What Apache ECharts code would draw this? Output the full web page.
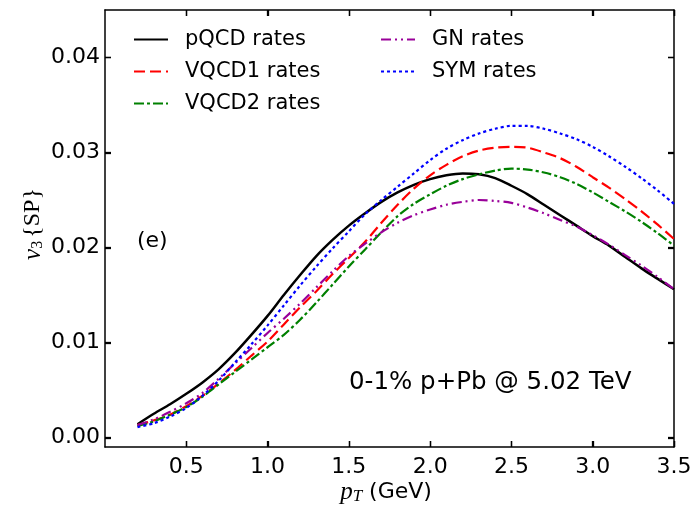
<!DOCTYPE html>
<html>
<head>
<meta charset="utf-8">
<script src="https://cdn.jsdelivr.net/npm/echarts@6/dist/echarts.min.js"></script>
<style>
html,body{margin:0;padding:0;background:#fff;}
#chart{width:696px;height:508px;}
</style>
</head>
<body>
<div id="chart"></div>
<script>
const pT = [0.2,0.3,0.4,0.5,0.6,0.7,0.8,0.9,1.0,1.1,1.2,1.3,1.4,1.5,1.6,1.7,1.8,1.9,2.0,2.1,2.2,2.3,2.4,2.5,2.6,2.7,2.8,2.9,3.0,3.1,3.2,3.3,3.4,3.5];
const pQCD = [0.0014,0.0025,0.0035,0.0046,0.0058,0.0072,0.0089,0.0108,0.0128,0.0150,0.0171,0.0191,0.0208,0.0223,0.0236,0.0248,0.0258,0.0266,0.0272,0.0276,0.0278,0.0277,0.0273,0.0265,0.0256,0.0245,0.0234,0.0223,0.0212,0.0202,0.0190,0.0178,0.0167,0.0156];
const VQCD1 = [0.0013,0.0018,0.0024,0.0033,0.0044,0.0057,0.0071,0.0086,0.0101,0.0119,0.0137,0.0154,0.0172,0.0189,0.0206,0.0226,0.0245,0.0262,0.0276,0.0287,0.0296,0.0302,0.0305,0.0306,0.0305,0.0300,0.0294,0.0285,0.0274,0.0263,0.0251,0.0238,0.0224,0.0209];
const VQCD2 = [0.0012,0.0017,0.0024,0.0032,0.0043,0.0056,0.0069,0.0082,0.0095,0.0108,0.0124,0.0142,0.0161,0.0180,0.0198,0.0216,0.0233,0.0246,0.0256,0.0265,0.0272,0.0277,0.0281,0.0283,0.0282,0.0279,0.0274,0.0267,0.0258,0.0248,0.0238,0.0227,0.0215,0.0202];
const GN = [0.0013,0.0019,0.0027,0.0036,0.0047,0.0062,0.0078,0.0094,0.0110,0.0125,0.0141,0.0158,0.0175,0.0191,0.0204,0.0216,0.0226,0.0234,0.0240,0.0245,0.0248,0.0250,0.0249,0.0247,0.0242,0.0236,0.0229,0.0222,0.0213,0.0203,0.0192,0.0181,0.0169,0.0156];
const SYM = [0.0011,0.0015,0.0022,0.0031,0.0044,0.0060,0.0079,0.0098,0.0118,0.0139,0.0160,0.0180,0.0199,0.0217,0.0235,0.0250,0.0264,0.0278,0.0292,0.0304,0.0313,0.0320,0.0325,0.0328,0.0328,0.0325,0.0320,0.0314,0.0306,0.0296,0.0285,0.0273,0.0260,0.0246];
const yTicks = [0.00,0.01,0.02,0.03,0.04];
const xTicks = [0.5,1.0,1.5,2.0,2.5,3.0,3.5];
const xRange = [0, 3.5];
const yRange = [-0.001, 0.045];

const pair = arr => pT.map((x,i)=>[x,arr[i]]);
const sans = 'DejaVu Sans';

const mkSeries = (name, arr, color, width, type) => ({
  name, type:'line', data: pair(arr), showSymbol:false, symbol:'none', smooth:0.3,
  lineStyle:{color, width, type}, itemStyle:{color}, z: 3
});
const mkTick = vals => ({show:true, inside:true, length:6, customValues: vals,
  lineStyle:{color:'#000', width:1.3}});

const chart = echarts.init(document.getElementById('chart'), null, {renderer:'canvas'});
const axLine = () => ({show:true, onZero:false, lineStyle:{color:'#000', width:1.5}});
const legendBase = () => ({orient:'vertical', itemWidth:34, itemHeight:14, itemGap:11,
  itemStyle:{opacity:0, color:'rgba(0,0,0,0)', borderWidth:0},
  textStyle:{fontFamily:sans, fontSize:21, color:'#000', padding:[0,0,0,12]}});

const texts = [
  {type:'text', id:'t_e', left:137, top:230, style:{text:'(e)', fontFamily:sans, fontSize:22, fill:'#000'}},
  {type:'text', id:'t_ann', left:349, top:370, style:{text:'0-1% p+Pb @ 5.02 TeV', fontFamily:sans, fontSize:24.5, fill:'#000'}},
  {type:'text', id:'t_x', x:386, y:492, style:{
    text:'{p|p}{t|T}{g| (GeV)}', align:'center', verticalAlign:'middle', fill:'#000',
    rich:{
      p:{fontFamily:'Liberation Serif', fontStyle:'italic', fontSize:25, fill:'#000'},
      t:{fontFamily:'Liberation Serif', fontStyle:'italic', fontSize:17, fill:'#000', padding:[10,0,0,0]},
      g:{fontFamily:sans, fontSize:22, fill:'#000'}
    }}},
  {type:'text', id:'t_y', x:33, y:224, rotation:Math.PI/2, style:{
    text:'{v|v}{s|3}{SP}', align:'center', verticalAlign:'middle', fill:'#000',
    fontFamily:'Liberation Serif', fontSize:24,
    rich:{
      v:{fontFamily:'Liberation Serif', fontStyle:'italic', fontSize:25, fill:'#000'},
      s:{fontFamily:'Liberation Serif', fontSize:16, fill:'#000', padding:[10,3,0,0]}
    }}}
];

chart.setOption({
  animation:false,
  backgroundColor:'#fff',
  grid:{left:105, top:10, right:22, bottom:61},
  legend:[
    Object.assign({left:128, top:24, data:['pQCD rates','VQCD1 rates','VQCD2 rates']}, legendBase()),
    Object.assign({left:375, top:24, data:['GN rates','SYM rates']}, legendBase())
  ],
  xAxis:[
    {type:'value', min:xRange[0], max:xRange[1], interval:0.5, position:'bottom',
     axisLine:axLine(), splitLine:{show:false}, axisTick:mkTick(xTicks),
     axisLabel:{fontFamily:sans, fontSize:22, color:'#000', margin:9,
       customValues: xTicks, formatter: v => v.toFixed(1)}},
    {type:'value', min:xRange[0], max:xRange[1], interval:0.5, position:'top',
     axisLine:axLine(), splitLine:{show:false}, axisTick:mkTick(xTicks),
     axisLabel:{show:false}}
  ],
  yAxis:[
    {type:'value', min:yRange[0], max:yRange[1], position:'left',
     axisLine:axLine(), splitLine:{show:false}, axisTick:mkTick(yTicks),
     axisLabel:{fontFamily:sans, fontSize:22, color:'#000', margin:5,
       customValues:yTicks, formatter: v => v.toFixed(2)}},
    {type:'value', min:yRange[0], max:yRange[1], position:'right',
     axisLine:axLine(), splitLine:{show:false}, axisTick:mkTick(yTicks),
     axisLabel:{show:false}}
  ],
  series:[
    mkSeries('pQCD rates', pQCD, '#000000', 2.5, 'solid'),
    mkSeries('VQCD1 rates', VQCD1, '#ff0000', 2.2, [11,5]),
    mkSeries('VQCD2 rates', VQCD2, '#008000', 2.2, [10,3,3,3]),
    mkSeries('GN rates', GN, '#990099', 2.2, [10,4,2,4,2,4]),
    mkSeries('SYM rates', SYM, '#0000ff', 2.2, [3,3]),
    {type:'line', xAxisIndex:1, yAxisIndex:1, data:[], silent:true}
  ],
  graphic: texts
});

// Mirror-style inward tick marks on all four sides, positioned through the axes' own scales
const tickLen = 6;
const xPix = v => chart.convertToPixel({xAxisIndex:0}, v);
const yPix = v => chart.convertToPixel({yAxisIndex:0}, v);
const xL = xPix(xRange[0]), xR = xPix(xRange[1]);
const yB = yPix(yRange[0]), yT = yPix(yRange[1]);
const tickStyle = {stroke:'#000', lineWidth:1.3};
const tickEls = [];
xTicks.forEach((v,i) => {
  const px = Math.round(xPix(v)) + 0.5;
  tickEls.push({type:'line', id:'xb'+i, z:20, silent:true, shape:{x1:px, y1:yB, x2:px, y2:yB - tickLen}, style:tickStyle});
  tickEls.push({type:'line', id:'xt'+i, z:20, silent:true, shape:{x1:px, y1:yT, x2:px, y2:yT + tickLen}, style:tickStyle});
});
yTicks.forEach((v,i) => {
  const py = Math.round(yPix(v)) + 0.5;
  tickEls.push({type:'line', id:'yl'+i, z:20, silent:true, shape:{x1:xL, y1:py, x2:xL + tickLen, y2:py}, style:tickStyle});
  tickEls.push({type:'line', id:'yr'+i, z:20, silent:true, shape:{x1:xR, y1:py, x2:xR - tickLen, y2:py}, style:tickStyle});
});
chart.setOption({graphic: texts.concat(tickEls)});
</script>
</body>
</html>
